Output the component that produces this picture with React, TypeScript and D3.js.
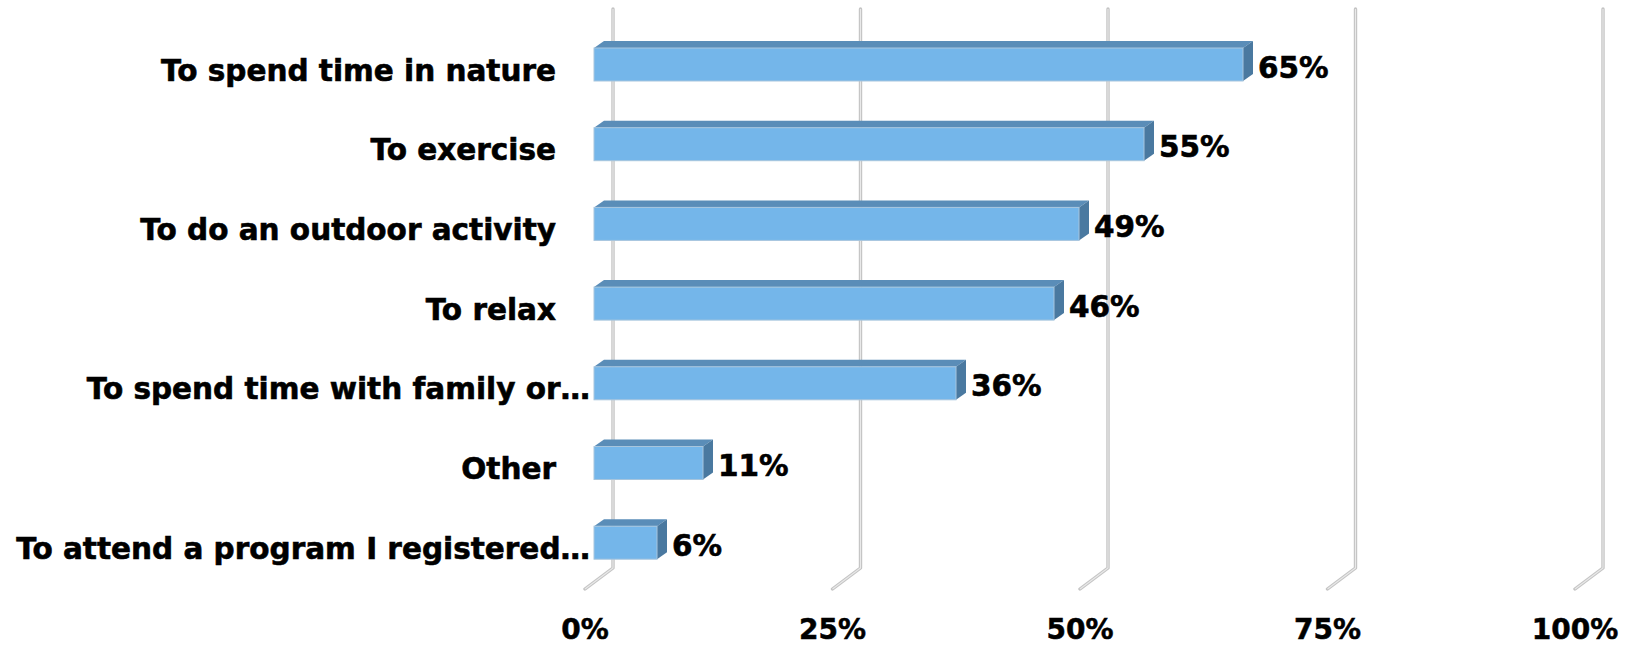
import React from "react";
import * as d3 from "d3";

const categories = [
  "To spend time in nature",
  "To exercise",
  "To do an outdoor activity",
  "To relax",
  "To spend time with family or…",
  "Other",
  "To attend a program I registered…",
];
const values = [64.9, 55.0, 48.5, 46.0, 36.2, 10.9, 6.3];
const ticks = [0, 25, 50, 75, 100];

const W = 1637;
const H = 645;

export default function App() {
  // back wall (gridlines) scale, floor-front scale, bar-front scale
  const xBack = d3.scaleLinear().domain([0, 100]).range([613, 1603]);
  const xFloor = d3.scaleLinear().domain([0, 100]).range([585, 1575]);
  const xBar = d3.scaleLinear().domain([0, 100]).range([594, 1594]);
  const y = d3.scalePoint<string>().domain(categories).range([64.5, 542.7]);

  const gridTop = 9;
  const gridBottom = 568;
  const depthX = -28;
  const depthY = 21;
  const barH = 33;
  const bdx = 10;
  const bdy = -7;
  const font = "'DejaVu Sans', sans-serif";

  return (
    <div>
      <style>{`body{margin:0;background:#fff}`}</style>
      <svg width={W} height={H} style={{ display: "block" }}>
        <rect width={W} height={H} fill="#fff" />
        {ticks.map((t) => {
          const xb = xBack(t);
          const pts = `${xb},${gridTop} ${xb},${gridBottom} ${xb + depthX},${gridBottom + depthY}`;
          return (
            <g key={t}>
              <polyline points={pts} fill="none" stroke="#c4c4c4" strokeWidth={3.4} strokeLinejoin="round" strokeLinecap="round" />
              <polyline points={pts} fill="none" stroke="#e9e9e9" strokeWidth={1.1} strokeLinejoin="round" />
            </g>
          );
        })}
        {categories.map((c, i) => {
          const cy = y(c)!;
          const top = cy - barH / 2;
          const bot = cy + barH / 2;
          const x0 = xBar(0);
          const x1 = xBar(values[i]);
          return (
            <g key={c}>
              <polygon
                points={`${x0},${top} ${x0 + bdx},${top + bdy} ${x1 + bdx},${top + bdy} ${x1},${top}`}
                fill="#5a8db8"
              />
              <polygon
                points={`${x1},${top} ${x1 + bdx},${top + bdy} ${x1 + bdx},${bot + bdy} ${x1},${bot}`}
                fill="#4a79a0"
              />
              <rect x={x0} y={top} width={x1 - x0} height={barH} fill="#74b6ea" stroke="#a7c5dd" strokeWidth={1} />
              <text
                x={x1 + bdx + 5}
                y={cy + 3}
                dominantBaseline="central"
                fontFamily={font}
                fontWeight="bold"
                fontSize={29.5}
                fill="#000"
                stroke="#000"
                strokeWidth={0.6}
              >
                {`${Math.round(values[i])}%`}
              </text>
              <text
                x={c.endsWith("…") ? 590 : 556}
                y={cy + 6}
                dominantBaseline="central"
                textAnchor="end"
                fontFamily={font}
                fontWeight="bold"
                fontSize={29.5}
                fill="#000"
                stroke="#000"
                strokeWidth={0.6}
              >
                {c}
              </text>
            </g>
          );
        })}
        {ticks.map((t) => (
          <text
            key={"l" + t}
            x={xFloor(t)}
            y={629}
            dominantBaseline="central"
            textAnchor="middle"
            fontFamily={font}
            fontWeight="bold"
            fontSize={28}
            fill="#000"
            stroke="#000"
            strokeWidth={0.5}
          >
            {`${t}%`}
          </text>
        ))}
      </svg>
    </div>
  );
}
